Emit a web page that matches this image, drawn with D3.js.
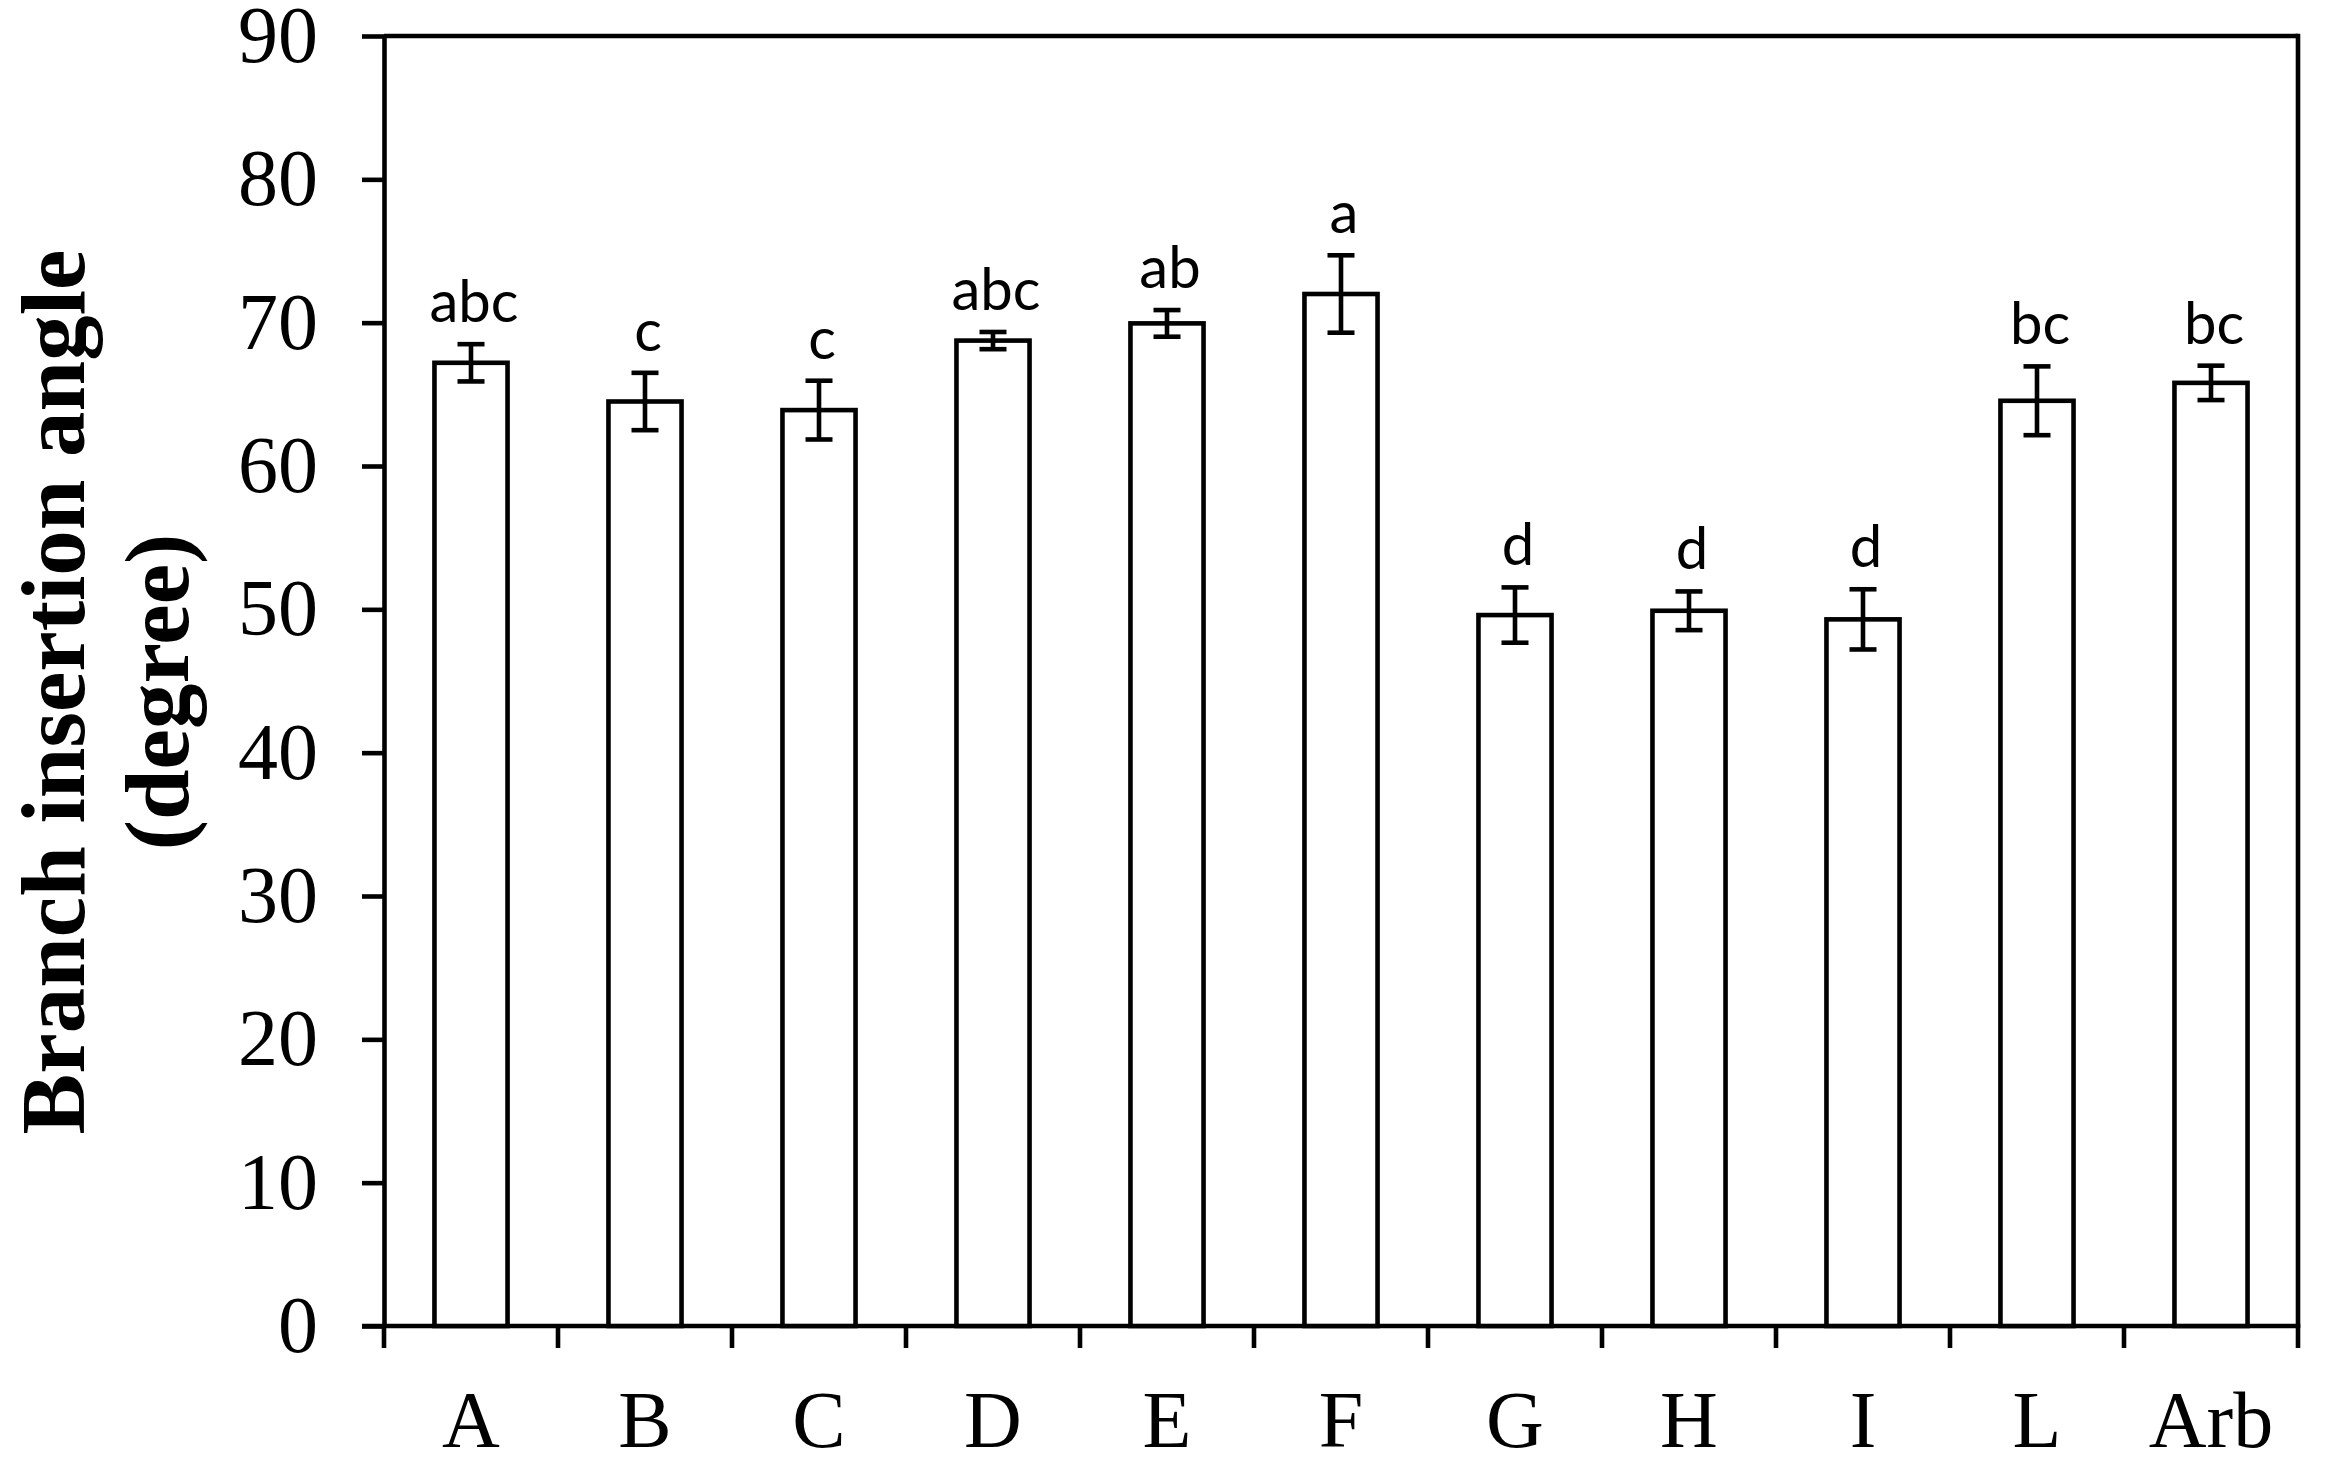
<!DOCTYPE html>
<html>
<head>
<meta charset="utf-8">
<script src="https://cdn.jsdelivr.net/npm/d3@7"></script>
<style>
  html, body { margin: 0; padding: 0; background: #fff; }
  svg { display: block; }
</style>
</head>
<body>
<svg id="chart" width="2326" height="1465"></svg>
<script>
const categories = ["A", "B", "C", "D", "E", "F", "G", "H", "I", "L", "Arb"];
const means      = [67.2, 64.5, 63.9, 68.75, 69.95, 72.0, 49.6, 49.9, 49.3, 64.55, 65.8];
const errors     = [1.3, 2.0, 2.05, 0.6, 0.93, 2.7, 1.93, 1.35, 2.1, 2.4, 1.2];
const letters    = ["abc", "c", "c", "abc", "ab", "a", "d", "d", "d", "bc", "bc"];
const yTicks     = [0, 10, 20, 30, 40, 50, 60, 70, 80, 90];
const yTitle     = ["Branch insertion angle", "(degree)"];

const svg = d3.select("#chart");
const L = 384, R = 2298, T = 36, B = 1326;
const SW = 4.6;

const x = d3.scaleBand().domain(categories).range([L, R]).paddingInner(0).paddingOuter(0);
const y = d3.scaleLinear().domain([0, 90]).range([B, T]);
const barW = x.bandwidth() * 0.42;

const serif = "'Liberation Serif', 'Times New Roman', serif";
const sans = "Lato, 'Open Sans', sans-serif";

// Y axis
const yAxis = svg.append("g").attr("transform", `translate(${L},0)`)
  .call(d3.axisLeft(y).tickValues(yTicks).tickSize(22).tickPadding(44).tickSizeOuter(0));
yAxis.select(".domain").attr("stroke", "#000").attr("stroke-width", SW);
yAxis.selectAll(".tick line").attr("stroke", "#000").attr("stroke-width", SW);
yAxis.selectAll(".tick text").attr("font-family", serif).attr("font-size", 80).attr("fill", "#000");

// X axis: labels
const xAxis = svg.append("g").attr("transform", `translate(0,${B})`)
  .call(d3.axisBottom(x).tickSize(0).tickPadding(64).tickSizeOuter(0));
xAxis.select(".domain").remove();
xAxis.selectAll(".tick text").attr("font-family", serif).attr("font-size", 80).attr("fill", "#000")
  .attr("dy", "0.71em");

// X boundary ticks
const bounds = categories.map(c => x(c)).concat([x(categories[categories.length - 1]) + x.step()]);
svg.append("g").selectAll("line").data(bounds).join("line")
  .attr("x1", d => d).attr("x2", d => d)
  .attr("y1", B).attr("y2", B + 22)
  .attr("stroke", "#000").attr("stroke-width", SW);

// Frame: top, right, bottom
svg.append("line").attr("x1", L).attr("x2", R).attr("y1", y(90)).attr("y2", y(90))
  .attr("stroke", "#000").attr("stroke-width", SW);
svg.append("line").attr("x1", R).attr("x2", R).attr("y1", y(90) - SW/2).attr("y2", B)
  .attr("stroke", "#000").attr("stroke-width", SW);
svg.append("line").attr("x1", L - 22).attr("x2", R + SW/2).attr("y1", B).attr("y2", B)
  .attr("stroke", "#000").attr("stroke-width", SW);

// Bars
const data = categories.map((c, i) => ({ c, m: means[i], e: errors[i], l: letters[i] }));
const g = svg.append("g");
g.selectAll("rect.bar").data(data).join("rect").attr("class", "bar")
  .attr("x", d => x(d.c) + x.bandwidth() / 2 - barW / 2)
  .attr("width", barW)
  .attr("y", d => y(d.m))
  .attr("height", d => B - y(d.m))
  .attr("fill", "#fff").attr("stroke", "#000").attr("stroke-width", SW);

// Error bars
const capW = 27;
const eb = g.selectAll("g.err").data(data).join("g").attr("class", "err")
  .attr("transform", d => `translate(${x(d.c) + x.bandwidth() / 2},0)`);
eb.append("line").attr("x1", 0).attr("x2", 0)
  .attr("y1", d => y(d.m + d.e)).attr("y2", d => y(d.m - d.e))
  .attr("stroke", "#000").attr("stroke-width", SW);
eb.append("line").attr("x1", -capW/2).attr("x2", capW/2)
  .attr("y1", d => y(d.m + d.e)).attr("y2", d => y(d.m + d.e))
  .attr("stroke", "#000").attr("stroke-width", SW);
eb.append("line").attr("x1", -capW/2).attr("x2", capW/2)
  .attr("y1", d => y(d.m - d.e)).attr("y2", d => y(d.m - d.e))
  .attr("stroke", "#000").attr("stroke-width", SW);

// Letters
g.selectAll("text.lt").data(data).join("text").attr("class", "lt")
  .attr("x", d => x(d.c) + x.bandwidth() / 2 + 3)
  .attr("y", d => y(d.m + d.e) - 22)
  .attr("text-anchor", "middle")
  .attr("font-family", sans).attr("font-size", 58).attr("fill", "#000")
  .text(d => d.l);

// Y title
const yt = svg.append("text")
  .attr("transform", "translate(84,692) rotate(-90)")
  .attr("text-anchor", "middle")
  .attr("font-family", serif).attr("font-weight", "bold").attr("font-size", 91).attr("fill", "#000");
yt.append("tspan").attr("x", 0).attr("y", 0).text(yTitle[0]);
yt.append("tspan").attr("x", 0).attr("y", 104).text(yTitle[1]);
</script>
</body>
</html>
